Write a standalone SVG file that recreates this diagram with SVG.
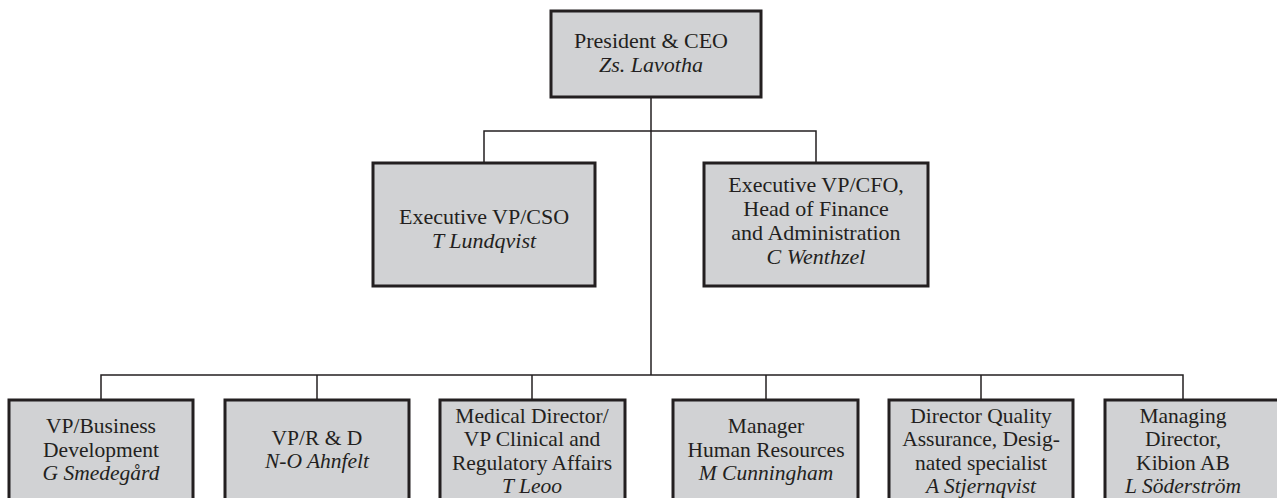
<svg xmlns="http://www.w3.org/2000/svg" width="1277" height="498" viewBox="0 0 1277 498">
  <style>
    .box { fill: #d1d2d4; stroke: #231f20; stroke-width: 3; }
    .wire { fill: none; stroke: #231f20; stroke-width: 1.5; }
    text { font-family: "Liberation Serif", "Times New Roman", serif; font-size: 21.5px; fill: #231f20; text-anchor: middle; }
    .name { font-style: italic; }
    .big { font-size: 22px; }
  </style>
  <rect width="1277" height="498" fill="#ffffff"/>

  <!-- reporting lines -->
  <g id="connectors">
    <path class="wire" d="M651 97 V375"/>
    <path class="wire" d="M484 163 V131 H816 V163"/>
    <path class="wire" d="M101 400 V375 H1183 V400"/>
    <path class="wire" d="M317 375 V400"/>
    <path class="wire" d="M532 375 V400"/>
    <path class="wire" d="M766 375 V400"/>
    <path class="wire" d="M981 375 V400"/>
  </g>

  <g id="ceo">
    <rect class="box" x="551" y="11" width="210" height="86"/>
    <text class="big" x="651" y="48">President &amp; CEO</text>
    <text class="name big" x="651" y="72">Zs. Lavotha</text>
  </g>

  <g id="cso">
    <rect class="box" x="373" y="163" width="222" height="123"/>
    <text class="big" x="484" y="224">Executive VP/CSO</text>
    <text class="name big" x="484" y="248">T Lundqvist</text>
  </g>

  <g id="cfo">
    <rect class="box" x="704" y="163" width="224" height="123"/>
    <text class="big" x="816" y="192">Executive VP/CFO,</text>
    <text class="big" x="816" y="216">Head of Finance</text>
    <text class="big" x="816" y="240">and Administration</text>
    <text class="name big" x="816" y="264">C Wenthzel</text>
  </g>

  <g id="business-development">
    <rect class="box" x="9" y="400" width="184" height="120"/>
    <text x="101" y="433">VP/Business</text>
    <text x="101" y="457">Development</text>
    <text class="name" x="101" y="480">G Smedegård</text>
  </g>

  <g id="research-development">
    <rect class="box" x="225" y="400" width="184" height="120"/>
    <text x="317" y="445">VP/R &amp; D</text>
    <text class="name" x="317" y="468">N-O Ahnfelt</text>
  </g>

  <g id="medical">
    <rect class="box" x="440" y="400" width="185" height="120"/>
    <text x="532" y="423">Medical Director/</text>
    <text x="532" y="446">VP Clinical and</text>
    <text x="532" y="470">Regulatory Affairs</text>
    <text class="name" x="532" y="493">T Leoo</text>
  </g>

  <g id="human-resources">
    <rect class="box" x="673" y="400" width="185" height="120"/>
    <text x="766" y="433">Manager</text>
    <text x="766" y="457">Human Resources</text>
    <text class="name" x="766" y="480">M Cunningham</text>
  </g>

  <g id="quality-assurance">
    <rect class="box" x="889" y="400" width="184" height="120"/>
    <text x="981" y="423">Director Quality</text>
    <text x="981" y="446">Assurance, Desig-</text>
    <text x="981" y="470">nated specialist</text>
    <text class="name" x="981" y="493">A Stjernqvist</text>
  </g>

  <g id="kibion">
    <rect class="box" x="1105" y="400" width="190" height="120"/>
    <text x="1183" y="423">Managing</text>
    <text x="1183" y="446">Director,</text>
    <text x="1183" y="470">Kibion AB</text>
    <text class="name" x="1183" y="493">L Söderström</text>
  </g>
</svg>
